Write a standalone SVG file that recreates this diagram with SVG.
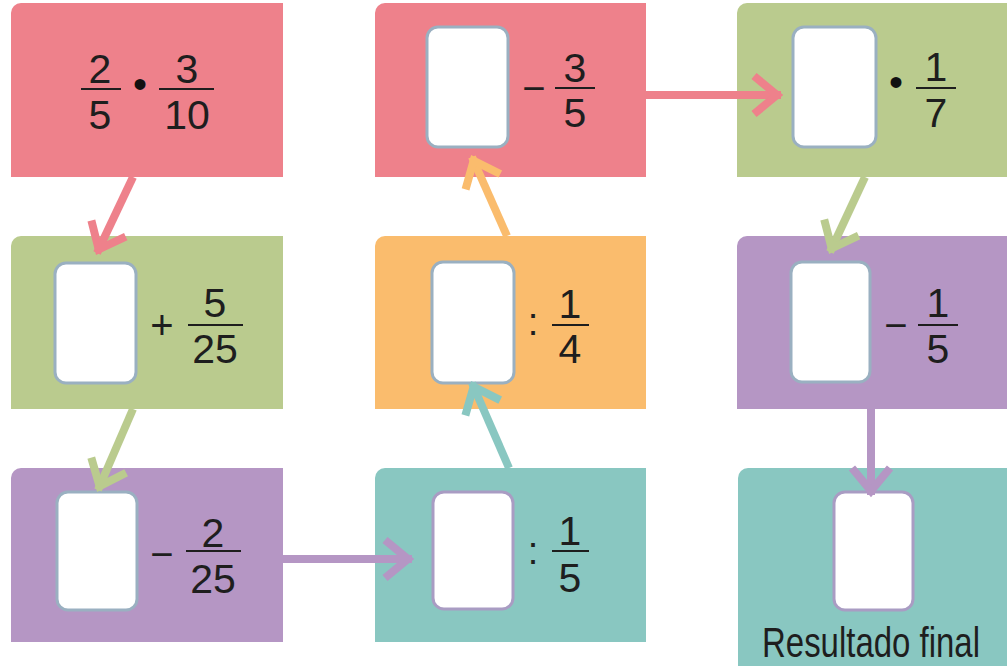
<svg xmlns="http://www.w3.org/2000/svg" width="1007" height="666" viewBox="0 0 1007 666">
<defs>
<style>
.pink{fill:#EE818B}.green{fill:#BACB8E}.purple{fill:#B596C4}.teal{fill:#89C7C1}.orange{fill:#FABC6D}
.slot{fill:#ffffff;stroke:#9AB0C1;stroke-width:3}
.slot2{fill:#ffffff;stroke:#A99CC3;stroke-width:3}
.d{font-family:"Liberation Sans",Arial,sans-serif;font-size:41px;fill:#1e1e1e;text-anchor:middle}
.op{font-family:"Liberation Sans",Arial,sans-serif;font-size:40px;fill:#1e1e1e;text-anchor:middle}
.bul{font-family:"Liberation Sans",Arial,sans-serif;font-size:40px;fill:#111111;text-anchor:middle}
.bar{stroke:#1e1e1e;stroke-width:2.2}
.lbl{font-family:"Liberation Sans",Arial,sans-serif;font-size:42px;fill:#1e1e1e}
.c{fill:none;stroke-width:8}
</style>
<marker id="mPink" markerUnits="userSpaceOnUse" orient="auto" overflow="visible" markerWidth="1" markerHeight="1"><path d="M-27,-19 L-4,0 L-27,19" fill="none" stroke="#EE818B" stroke-width="8"/></marker>
<marker id="mGreen" markerUnits="userSpaceOnUse" orient="auto" overflow="visible" markerWidth="1" markerHeight="1"><path d="M-27,-19 L-4,0 L-27,19" fill="none" stroke="#BACB8E" stroke-width="8"/></marker>
<marker id="mPurple" markerUnits="userSpaceOnUse" orient="auto" overflow="visible" markerWidth="1" markerHeight="1"><path d="M-27,-19 L-4,0 L-27,19" fill="none" stroke="#B596C4" stroke-width="8"/></marker>
<marker id="mTeal" markerUnits="userSpaceOnUse" orient="auto" overflow="visible" markerWidth="1" markerHeight="1"><path d="M-27,-19 L-4,0 L-27,19" fill="none" stroke="#89C7C1" stroke-width="8"/></marker>
<marker id="mOrange" markerUnits="userSpaceOnUse" orient="auto" overflow="visible" markerWidth="1" markerHeight="1"><path d="M-27,-19 L-4,0 L-27,19" fill="none" stroke="#FABC6D" stroke-width="8"/></marker>
</defs>
<rect width="1007" height="666" fill="#ffffff"/>

<g id="n1">
<path class="pink" d="M11,13 A10,10 0 0 1 21,3 H283 V177 H11 Z"/>
<text class="d" x="100" y="83">2</text><line class="bar" x1="81" y1="89" x2="121" y2="89"/><text class="d" x="100" y="129">5</text>
<text class="bul" x="140" y="98">•</text>
<text class="d" x="187" y="83">3</text><line class="bar" x1="159" y1="89" x2="214" y2="89"/><text class="d" x="187" y="129">10</text>
</g>

<g id="n2">
<path class="green" d="M11,246 A10,10 0 0 1 21,236 H283 V409 H11 Z"/>
<rect class="slot" x="55" y="263" width="81" height="120" rx="11"/>
<text class="op" x="162" y="339">+</text>
<text class="d" x="215" y="317">5</text><line class="bar" x1="188" y1="325" x2="243" y2="325"/><text class="d" x="215" y="363">25</text>
</g>

<g id="n3">
<path class="purple" d="M11,478 A10,10 0 0 1 21,468 H283 V642 H11 Z"/>
<rect class="slot" x="57" y="492" width="80" height="118" rx="11"/>
<text class="op" x="162" y="568">−</text>
<text class="d" x="213" y="547">2</text><line class="bar" x1="186" y1="551" x2="241" y2="551"/><text class="d" x="213" y="593">25</text>
</g>

<g id="n4">
<path class="teal" d="M375,478 A10,10 0 0 1 385,468 H646 V642 H375 Z"/>
<rect class="slot2" x="433" y="492" width="80" height="117" rx="11"/>
<text class="op" x="533" y="564" style="font-size:38px">:</text>
<text class="d" x="570" y="545">1</text><line class="bar" x1="552" y1="551" x2="589" y2="551"/><text class="d" x="570" y="592">5</text>
</g>

<g id="n5">
<path class="orange" d="M375,246 A10,10 0 0 1 385,236 H646 V409 H375 Z"/>
<rect class="slot" x="432" y="262" width="82" height="121" rx="11"/>
<text class="op" x="533" y="335" style="font-size:38px">:</text>
<text class="d" x="570" y="318">1</text><line class="bar" x1="552" y1="325" x2="589" y2="325"/><text class="d" x="570" y="363">4</text>
</g>

<g id="n6">
<path class="pink" d="M375,13 A10,10 0 0 1 385,3 H646 V177 H375 Z"/>
<rect class="slot" x="427" y="27" width="81" height="120" rx="11"/>
<text class="op" x="534" y="102">−</text>
<text class="d" x="575" y="82">3</text><line class="bar" x1="555" y1="88" x2="595" y2="88"/><text class="d" x="575" y="127">5</text>
</g>

<g id="n7">
<path class="green" d="M737,13 A10,10 0 0 1 747,3 H1007 V177 H737 Z"/>
<rect class="slot" x="793" y="27" width="83" height="120" rx="11"/>
<text class="bul" x="896" y="96">•</text>
<text class="d" x="936" y="81">1</text><line class="bar" x1="916" y1="88" x2="956" y2="88"/><text class="d" x="936" y="127">7</text>
</g>

<g id="n8">
<path class="purple" d="M737,246 A10,10 0 0 1 747,236 H1007 V409 H737 Z"/>
<rect class="slot" x="791" y="262" width="79" height="120" rx="11"/>
<text class="op" x="896" y="339">−</text>
<text class="d" x="938" y="317">1</text><line class="bar" x1="918" y1="325" x2="958" y2="325"/><text class="d" x="938" y="363">5</text>
</g>

<g id="n9">
<path class="teal" d="M738,478 A10,10 0 0 1 748,468 H1007 V666 H738 Z"/>
<rect class="slot2" x="834" y="492" width="79" height="118" rx="11"/>
<text class="lbl" x="762" y="657" textLength="218" lengthAdjust="spacingAndGlyphs">Resultado final</text>
</g>

<g id="connectors">
<line class="c" stroke="#EE818B" x1="133" y1="177" x2="97" y2="253" marker-end="url(#mPink)"/>
<line class="c" stroke="#BACB8E" x1="133" y1="409" x2="98" y2="490" marker-end="url(#mGreen)"/>
<line class="c" stroke="#B596C4" x1="283" y1="559" x2="412" y2="559" marker-end="url(#mPurple)"/>
<line class="c" stroke="#89C7C1" x1="509" y1="468" x2="472" y2="383" marker-end="url(#mTeal)"/>
<line class="c" stroke="#FABC6D" x1="507" y1="236" x2="472" y2="157" marker-end="url(#mOrange)"/>
<line class="c" stroke="#EE818B" x1="646" y1="95" x2="781" y2="95" marker-end="url(#mPink)"/>
<line class="c" stroke="#BACB8E" x1="865" y1="177" x2="830" y2="252" marker-end="url(#mGreen)"/>
<line class="c" stroke="#B596C4" x1="871" y1="409" x2="871" y2="495" marker-end="url(#mPurple)"/>
</g>
</svg>
